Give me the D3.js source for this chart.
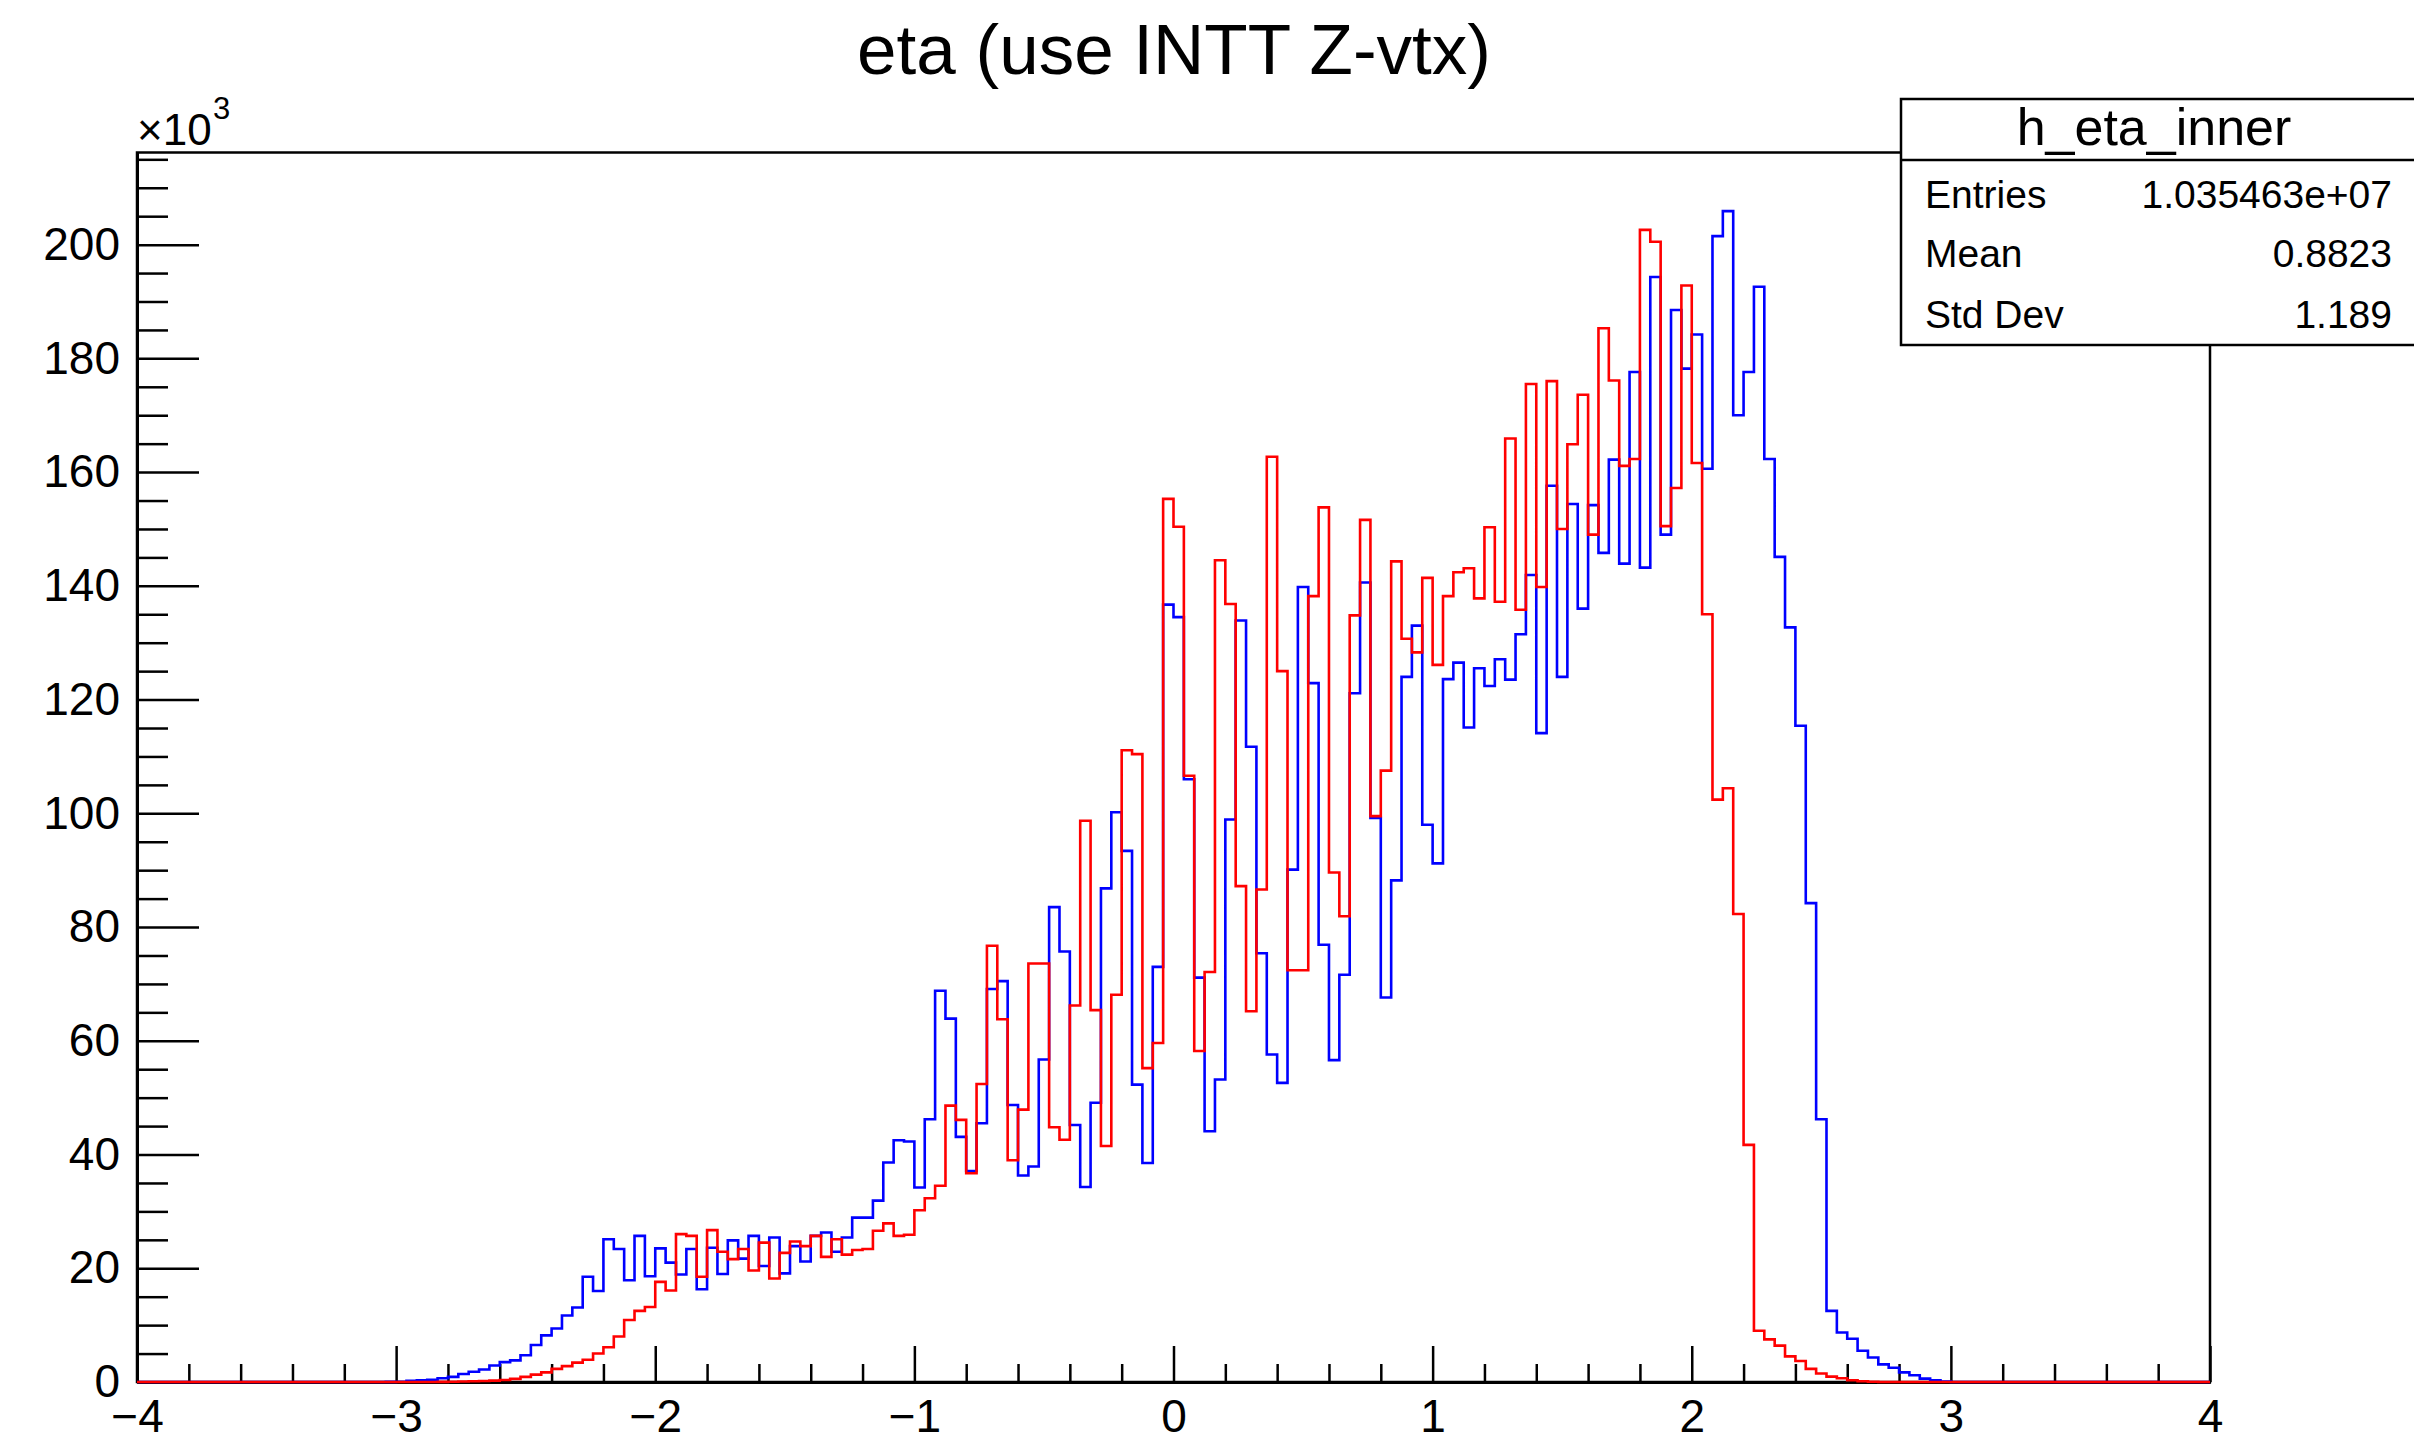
<!DOCTYPE html>
<html>
<head>
<meta charset="utf-8">
<script src="https://cdn.jsdelivr.net/npm/d3@7"></script>
<style>
  html, body { margin: 0; padding: 0; background: #fff; }
  svg { display: block; }
  text { font-family: "Liberation Sans", Arial, Helvetica, sans-serif; fill: #000; }
</style>
</head>
<body>
<svg id="chart" width="2414" height="1435"></svg>
<script>
// ---------- DATA (values in units of 10^3 entries) ----------
const chartTitle = "eta (use INTT Z-vtx)";
const xDomain = [-4, 4];
const binWidth = 0.04;           // 200 bins over [-4, 4]
const yMax = 216.2;              // axis top (x10^3)

const xMajorTicks = [-4, -3, -2, -1, 0, 1, 2, 3, 4];
const yMajorTicks = [0, 20, 40, 60, 80, 100, 120, 140, 160, 180, 200];

// blue histogram: first non-empty bin starts at eta = -3.04
const blueFirstBin = -3.04;
const blueValues = [
  0.02, 0.05, 0.2, 0.3, 0.4, 0.65, 0.9, 1.4, 1.8, 2.2,
  2.9, 3.5, 3.8, 4.7, 6.5, 8.2, 9.4, 11.7, 13.1, 18.5,
  16.0, 25.1, 23.4, 17.9, 25.7, 18.6, 23.5, 21.0, 18.9, 23.4,
  16.3, 23.6, 19.0, 24.9, 21.7, 25.7, 20.4, 25.4, 19.1, 23.9,
  21.2, 25.7, 26.3, 22.9, 25.4, 28.9, 28.9, 31.9, 38.6, 42.5,
  42.3, 34.2, 46.2, 68.8, 63.9, 43.1, 37.1, 45.5, 69.1, 70.5,
  48.7, 36.3, 37.9, 56.7, 83.5, 75.7, 45.2, 34.3, 49.1, 86.8,
  100.2, 93.4, 52.3, 38.5, 73.0, 136.7, 134.5, 106.0, 71.1, 44.1,
  53.2, 98.9, 133.9, 111.7, 75.4, 57.6, 52.6, 90.1, 139.8, 122.9,
  76.9, 56.6, 71.6, 121.1, 140.6, 99.2, 67.6, 88.2, 124.0, 133.0,
  98.0, 91.2, 123.6, 126.5, 115.1, 125.5, 122.4, 127.1, 123.5, 131.5,
  141.9, 114.1, 157.6, 124.0, 154.4, 136.0, 154.2, 145.8, 162.2, 143.9,
  177.6, 143.2, 194.3, 149.0, 188.5, 178.2, 184.2, 160.6, 201.5, 205.9,
  170.0, 177.6, 192.6, 162.3, 145.1, 132.7, 115.4, 84.2, 46.2, 12.5,
  8.7, 7.6, 5.5, 4.3, 3.1, 2.5, 1.7, 1.2, 0.6, 0.3,
  0.1
];

// red histogram: first non-empty bin starts at eta = -2.84
const redFirstBin = -2.84;
const redValues = [
  0.03, 0.05, 0.08, 0.12, 0.18, 0.25, 0.35, 0.55, 0.9, 1.3,
  1.7, 2.3, 2.8, 3.4, 3.9, 5.0, 6.1, 8.0, 10.9, 12.5,
  13.2, 17.6, 16.1, 26.0, 25.7, 18.5, 26.7, 22.9, 21.6, 23.4,
  19.6, 24.5, 18.2, 22.7, 24.7, 23.9, 25.7, 22.0, 25.1, 22.4,
  23.2, 23.4, 26.6, 27.9, 25.7, 25.9, 30.2, 32.3, 34.5, 48.6,
  46.1, 36.7, 52.4, 76.7, 63.8, 39.0, 47.9, 73.6, 73.6, 44.8,
  42.6, 66.2, 98.7, 65.4, 41.5, 68.1, 111.1, 110.4, 55.2, 59.6,
  155.3, 150.4, 106.6, 58.2, 72.1, 144.5, 136.8, 87.2, 65.2, 86.6,
  162.7, 125.0, 72.4, 72.4, 138.2, 153.8, 89.6, 81.9, 134.8, 151.6,
  99.5, 107.5, 144.3, 130.7, 128.3, 141.4, 126.1, 138.2, 142.4, 143.1,
  137.8, 150.3, 137.2, 165.9, 135.8, 175.5, 139.8, 176.0, 150.0, 164.9,
  173.6, 149.0, 185.3, 176.1, 161.1, 162.3, 202.6, 200.5, 150.5, 157.2,
  192.8, 161.6, 135.0, 102.4, 104.4, 82.3, 41.7, 9.0, 7.5, 6.4,
  4.5, 3.7, 2.3, 1.5, 0.95, 0.65, 0.3, 0.12, 0.05
];

const statsName = "h_eta_inner";
const statsLabels = ["Entries", "Mean", "Std Dev"];
const statsValues = ["1.035463e+07", "0.8823", "1.189"];

// ---------- DRAWING ----------
const svg = d3.select("#chart");
svg.append("rect").attr("width", 2414).attr("height", 1435).attr("fill", "#fff");

const frame = { left: 137, right: 2210, top: 152.5, bottom: 1382 };
const x = d3.scaleLinear().domain(xDomain).range([frame.left, frame.right]);
const y = d3.scaleLinear().domain([0, yMax]).range([frame.bottom, frame.top]);

// frame (top and right sides)
svg.append("rect")
  .attr("x", frame.left).attr("y", frame.top)
  .attr("width", frame.right - frame.left).attr("height", frame.bottom - frame.top)
  .attr("fill", "none").attr("stroke", "#000").attr("stroke-width", 2.5);

// minor ticks
const xMinor = d3.range(-40, 41, 2).map(d => d / 10).filter(d => !xMajorTicks.includes(d));
const yMinor = d3.range(0, 216, 5).filter(d => !yMajorTicks.includes(d));

const xAxisMinor = d3.axisBottom(x).tickValues(xMinor).tickSize(-18).tickSizeOuter(0).tickFormat("");
const yAxisMinor = d3.axisLeft(y).tickValues(yMinor).tickSize(-31).tickSizeOuter(0).tickFormat("");
const xAxis = d3.axisBottom(x).tickValues(xMajorTicks).tickSize(-36).tickSizeOuter(0)
  .tickPadding(17).tickFormat(d3.format("d"));
const yAxis = d3.axisLeft(y).tickValues(yMajorTicks).tickSize(-62).tickSizeOuter(0)
  .tickPadding(17).tickFormat(d3.format("d"));

function styleAxis(g) {
  g.selectAll("path.domain").attr("stroke", "#000").attr("stroke-width", 3);
  g.selectAll(".tick line").attr("stroke", "#000").attr("stroke-width", 2.5);
  g.selectAll(".tick text").attr("font-size", 46)
    .attr("font-family", '"Liberation Sans", Arial, Helvetica, sans-serif').attr("fill", "#000");
}

svg.append("g").attr("transform", `translate(0,${frame.bottom})`).call(xAxisMinor).call(styleAxis);
svg.append("g").attr("transform", `translate(${frame.left},0)`).call(yAxisMinor).call(styleAxis);
svg.append("g").attr("transform", `translate(0,${frame.bottom})`).call(xAxis).call(styleAxis);
svg.append("g").attr("transform", `translate(${frame.left},0)`).call(yAxis).call(styleAxis);

// histograms as step outlines
function histPoints(first, values) {
  const pts = [[xDomain[0], 0], [first, 0]];
  values.forEach((v, i) => {
    const lo = first + i * binWidth;
    pts.push([lo, v], [lo + binWidth, v]);
  });
  const end = first + values.length * binWidth;
  pts.push([end, 0], [xDomain[1], 0]);
  return pts;
}
const line = d3.line().x(d => x(d[0])).y(d => y(d[1]));

svg.append("path").attr("d", line(histPoints(blueFirstBin, blueValues)))
  .attr("fill", "none").attr("stroke", "#0000ff").attr("stroke-width", 2.6)
  .attr("stroke-linejoin", "miter");
svg.append("path").attr("d", line(histPoints(redFirstBin, redValues)))
  .attr("fill", "none").attr("stroke", "#ff0000").attr("stroke-width", 2.6)
  .attr("stroke-linejoin", "miter");

// x10^3 multiplier
const mult = svg.append("text").attr("x", 137).attr("y", 145).attr("font-size", 44);
mult.append("tspan").text("\u00d710");
mult.append("tspan").attr("x", 213).attr("y", 119).attr("font-size", 31).text("3");

// title
svg.append("text").attr("x", 1174).attr("y", 74).attr("text-anchor", "middle")
  .attr("font-size", 71).text(chartTitle);

// stats box
const box = { x: 1901, y: 99, w: 520, h: 246, sep: 160 };
svg.append("rect").attr("x", box.x).attr("y", box.y).attr("width", box.w).attr("height", box.h)
  .attr("fill", "#fff").attr("stroke", "#000").attr("stroke-width", 2.5);
svg.append("line").attr("x1", box.x).attr("x2", box.x + box.w)
  .attr("y1", box.sep).attr("y2", box.sep).attr("stroke", "#000").attr("stroke-width", 2.5);
svg.append("text").attr("x", 2154).attr("y", 145).attr("text-anchor", "middle")
  .attr("font-size", 52).text(statsName);
const rowY = [208, 266.5, 328];
statsLabels.forEach((lab, i) => {
  svg.append("text").attr("x", 1925).attr("y", rowY[i]).attr("font-size", 39).text(lab);
  svg.append("text").attr("x", 2392).attr("y", rowY[i]).attr("text-anchor", "end")
    .attr("font-size", 39).text(statsValues[i]);
});
</script>
</body>
</html>
